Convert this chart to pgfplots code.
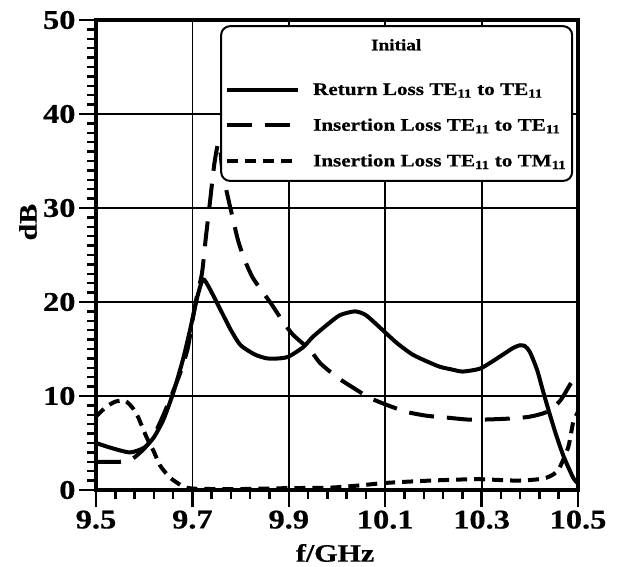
\documentclass[border=0pt]{standalone}
\usepackage{fontspec}
\setmainfont[FakeStretch=1.2, BoldFeatures={FakeBold=0.6}]{Liberation Serif}
\usepackage{pgfplots}
\pgfplotsset{compat=1.18}

\begin{document}
\begin{tikzpicture}
\begin{axis}[
  scale only axis, width=482pt, height=470pt,
  xmin=9.5, xmax=10.5, ymin=0, ymax=50,
  xtick={9.5,9.7,9.9,10.1,10.3,10.5},
  xticklabels={9.5,9.7,9.9,10.1,10.3,10.5},
  ytick={0,10,20,30,40,50},
  minor x tick num=4, minor y tick num=9,
  xtick pos=bottom, ytick pos=left,
  tick align=outside,
  major tick length=17pt, minor tick length=9pt,
  tick style={line width=2.5pt, black},
  axis line style={line width=4pt},
  grid=major, grid style={line width=1.8pt, black},
  ticklabel style={font=\fontsize{27}{29}\selectfont\bfseries},
  /pgf/number format/assume math mode=true,
  xlabel={f/GHz}, ylabel={dB},
  label style={font=\fontsize{25}{28}\selectfont\bfseries},
  xlabel style={at={(axis description cs:0.496,-0.134)}, anchor=center},
  ylabel style={at={(axis description cs:-0.141,0.57)}, anchor=center},
  legend cell align=left,
  legend image code/.code={\draw[#1] (0pt,0pt) -- (71pt,0pt); \path[draw=none] (71pt,0pt) -- (84pt,0pt);},
  legend style={at={(rel axis cs:0.990,0.989)}, anchor=north east,
    draw=black, line width=2pt, rounded corners=9pt, fill=white,
    font=\fontsize{17.6}{20}\selectfont\bfseries, row sep=18pt,
    inner xsep=4pt, inner ysep=11pt},
]
\addlegendimage{legend image code/.code={\path[draw=none] (0pt,6pt) -- (0pt,-18pt);}}
\addlegendentry{\hspace*{58pt}\fontsize{16}{18}\selectfont Initial}

\addplot[line width=4pt, black, smooth, tension=0.4] coordinates {
(9.50,5.0) (9.53,4.5) (9.57,4.0) (9.60,4.5) (9.62,5.6) (9.64,7.5) (9.66,10.3)
(9.68,13.8) (9.695,17.0) (9.71,20.5) (9.722,22.4) (9.735,21.5) (9.757,19.3)
(9.78,17.0) (9.80,15.4) (9.83,14.4) (9.855,14.0) (9.88,14.0) (9.90,14.2)
(9.93,15.2) (9.95,16.3) (9.98,17.6) (10.006,18.6) (10.037,19.0) (10.06,18.6)
(10.095,17.0) (10.125,15.6) (10.157,14.4) (10.19,13.6) (10.214,13.1)
(10.24,12.8) (10.261,12.6) (10.296,12.9) (10.32,13.6) (10.344,14.4)
(10.365,15.1) (10.38,15.4) (10.39,15.3) (10.40,14.7) (10.415,12.8)
(10.427,10.6) (10.44,8.3) (10.455,5.8) (10.47,3.6) (10.49,1.3) (10.50,0.7)
};
\addlegendentry{Return Loss TE\textsubscript{11} to TE\textsubscript{11}}

\addplot[line width=4pt, black, smooth, tension=0.4, dash pattern=on 25pt off 13pt] coordinates {
(9.50,3.0) (9.55,3.0) (9.575,3.3) (9.60,4.4) (9.62,5.8) (9.64,8.0) (9.66,10.5)
(9.675,12.5) (9.69,15.0) (9.70,18.0) (9.71,20.8) (9.72,23.1) (9.728,26.9)
(9.737,30.9) (9.745,34.5) (9.752,36.6) (9.757,36.8) (9.761,34.5) (9.77,32.0)
(9.782,29.3) (9.795,26.5) (9.809,24.4) (9.825,22.6) (9.844,21.2) (9.865,19.7)
(9.888,17.9) (9.909,16.5) (9.944,14.9) (9.965,13.5) (10.0,12.0) (10.033,10.9)
(10.068,9.8) (10.106,9.0) (10.145,8.3) (10.186,7.9) (10.228,7.7) (10.27,7.5)
(10.31,7.5) (10.358,7.6) (10.40,7.8) (10.435,8.3) (10.463,9.5) (10.487,11.5)
(10.50,12.2)
};
\addlegendentry{Insertion Loss TE\textsubscript{11} to TE\textsubscript{11}}

\addplot[line width=4pt, black, smooth, tension=0.4, dash pattern=on 11pt off 7pt] coordinates {
(9.50,7.8) (9.52,8.8) (9.54,9.4) (9.56,9.5) (9.575,8.8) (9.587,7.8) (9.605,5.6)
(9.619,4.2) (9.633,2.6) (9.654,1.3) (9.68,0.4) (9.70,0.15) (9.75,0.1)
(9.80,0.1) (9.90,0.2) (9.985,0.25) (10.05,0.5) (10.1,0.75) (10.193,1.0)
(10.29,1.15) (10.373,1.0) (10.427,1.2) (10.45,1.7) (10.462,2.4) (10.48,4.6)
(10.49,7.2) (10.50,8.3)
};
\addlegendentry{Insertion Loss TE\textsubscript{11} to TM\textsubscript{11}}
\end{axis}
\path[use as bounding box] (-96pt,-77pt) rectangle (522pt,490pt);
\end{tikzpicture}
\end{document}
